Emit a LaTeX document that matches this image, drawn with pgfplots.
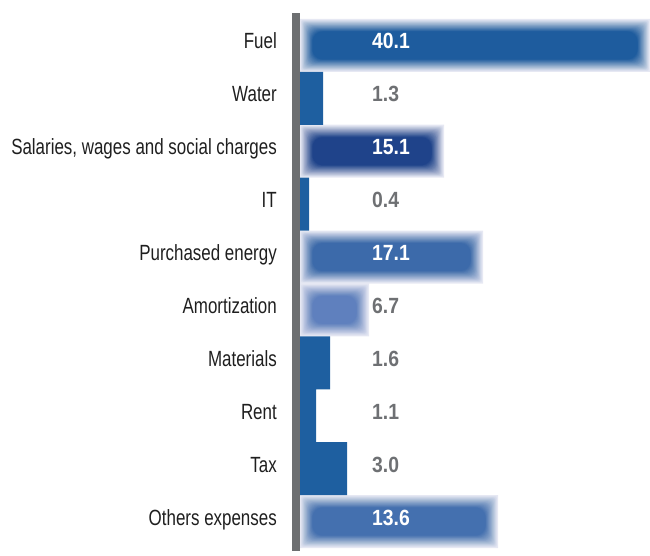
\documentclass[border=0pt]{standalone}
\usepackage{pgfplots}
\pgfplotsset{compat=1.18}
\usepackage{pgfplotstable}
\usepackage{fontspec}
\setmainfont{Liberation Sans}
\newfontfamily\catfont{Liberation Sans}[FakeStretch=0.77]
\newfontfamily\valfont{Liberation Sans}[FakeStretch=0.88]
\definecolor{barblue}{HTML}{1E5FA0}
\definecolor{axisgray}{HTML}{6D6F71}
\definecolor{labgray}{HTML}{6E7073}
\definecolor{pale}{HTML}{E6E8F3}
\definecolor{cFuel}{HTML}{1E5C9E}
\definecolor{cSal}{HTML}{1F438A}
\definecolor{cPur}{HTML}{3C6AAA}
\definecolor{cAmo}{HTML}{5F80BE}
\definecolor{cOth}{HTML}{4470AF}

% y = row (0 = Fuel, top); len = drawn bar length (px)
\pgfplotstableread{
y len
1 23
3 9
6 30
7 16
8 47
}\solidbars
\pgfplotstableread{
y len
0 350
2 144
4 183
5 69
9 198
}\blurbars
\pgfplotstableread{
y val
0 40.1
2 15.1
4 17.1
9 13.6
}\whitelabels
\pgfplotstableread{
y val
1 1.3
3 0.4
5 6.7
6 1.6
7 1.1
8 3.0
}\graylabels

\pgfplotsset{
  base/.style={
    at={(0,0)}, anchor=south west, scale only axis,
    width=354pt, height=538pt,
    xmin=-4, xmax=350, ymin=-0.613, ymax=9.557, y dir=reverse,
  },
  lay/.style={xbar, bar shift=0pt, bar width=\bw pt, draw=none, fill opacity=\a, fill=#1, rounded corners=\rc pt},
}

\begin{document}
\begin{tikzpicture}
% pale backgrounds and solid bars
\begin{axis}[base, hide axis]
  \addplot[xbar, bar shift=0pt, bar width=53pt, fill=pale, draw=none] table[x=len, y=y]{\blurbars};
  \addplot[xbar, bar shift=0pt, bar width=53pt, fill=barblue, draw=none] table[x=len, y=y]{\solidbars};
\end{axis}
% blurred cores: inset translucent rounded layers giving a soft edge
\foreach \k in {1,...,20}{
  \pgfmathsetmacro\s{0.5+0.6*\k}
  \pgfmathsetmacro\bw{52.9-2*\s}
  \pgfmathsetmacro\a{1/(21-\k)}
  \pgfmathsetmacro\rc{0.8*\s}
  \begin{axis}[base, hide axis, xmin=-4-\s, xmax=350-\s]
    \addplot[lay=cFuel, skip coords between index={1}{5}] table[x expr=\thisrow{len}-2*\s, y=y]{\blurbars};
    \addplot[lay=cSal, skip coords between index={0}{1}, skip coords between index={2}{5}] table[x expr=\thisrow{len}-2*\s, y=y]{\blurbars};
    \addplot[lay=cPur, skip coords between index={0}{2}, skip coords between index={3}{5}] table[x expr=\thisrow{len}-2*\s, y=y]{\blurbars};
    \addplot[lay=cAmo, skip coords between index={0}{3}, skip coords between index={4}{5}] table[x expr=\thisrow{len}-2*\s, y=y]{\blurbars};
    \addplot[lay=cOth, skip coords between index={0}{4}] table[x expr=\thisrow{len}-2*\s, y=y]{\blurbars};
  \end{axis}
}
% axis line, category labels, value labels
\begin{axis}[base, name=ax,
  axis x line=none, axis y line=left,
  y axis line style={-, line width=8pt, draw=axisgray},
  ytick={0,...,9},
  yticklabels={Fuel, Water, {Salaries, wages and social charges}, IT, Purchased energy, Amortization, Materials, Rent, Tax, Others expenses},
  major tick length=0pt,
  yticklabel style={font=\catfont\fontsize{22}{26}\selectfont, anchor=base east, inner sep=0pt, xshift=-19pt, yshift=-3.5pt, text=black!88},
]
  \addplot[draw=none, mark=none, nodes near coords, point meta=explicit symbolic,
    nodes near coords style={anchor=base west, inner sep=0pt, yshift=-3.5pt, font=\valfont\bfseries\fontsize{22}{26}\selectfont, text=white}]
    table[x expr=72, y=y, meta=val]{\whitelabels};
  \addplot[draw=none, mark=none, nodes near coords, point meta=explicit symbolic,
    nodes near coords style={anchor=base west, inner sep=0pt, yshift=-3.5pt, font=\valfont\bfseries\fontsize{22}{26}\selectfont, text=labgray}]
    table[x expr=72, y=y, meta=val]{\graylabels};
\end{axis}
\path ([xshift=-296pt]ax.south west) rectangle ([yshift=13pt]ax.north east);
\end{tikzpicture}
\end{document}
